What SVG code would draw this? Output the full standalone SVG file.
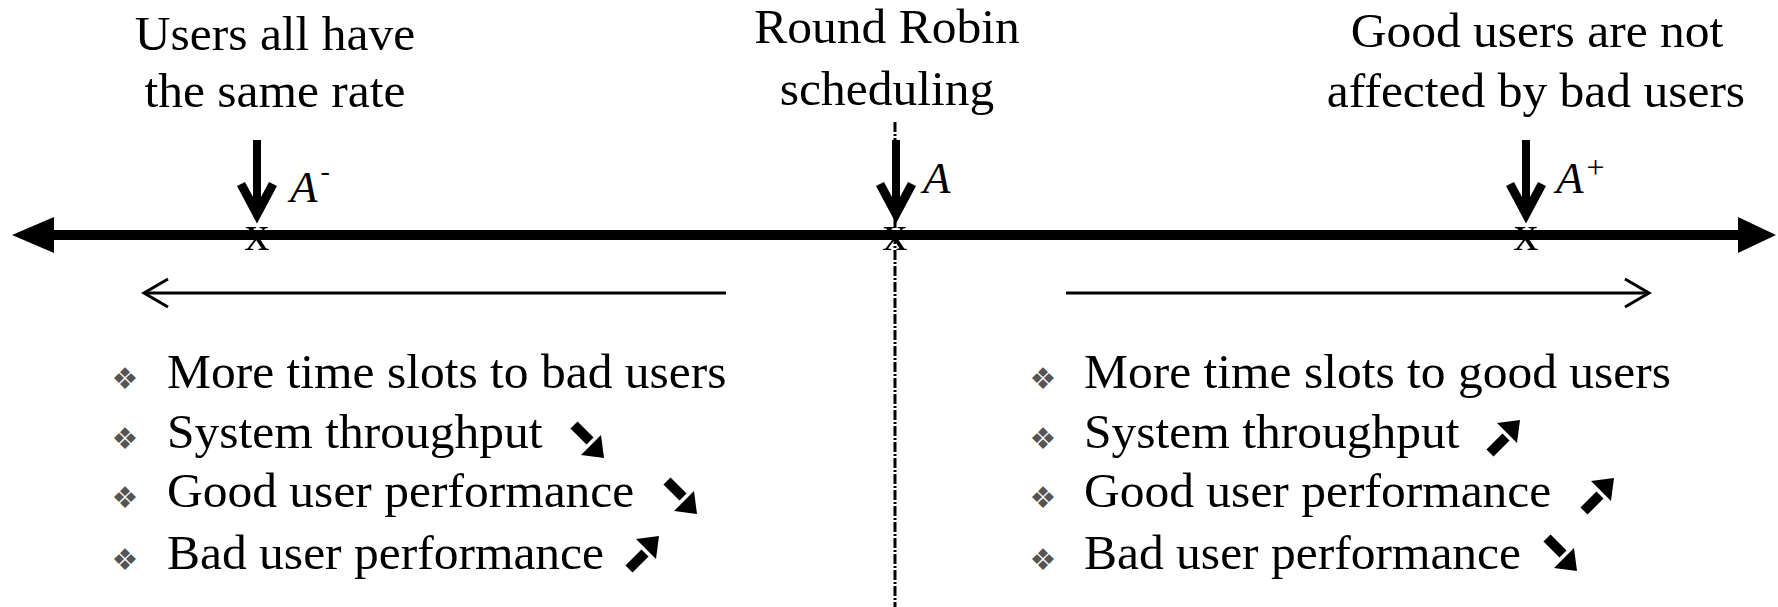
<svg xmlns="http://www.w3.org/2000/svg" xmlns:xlink="http://www.w3.org/1999/xlink" width="1778" height="607" viewBox="0 0 1778 607">
<style>
text{font-family:"Liberation Serif","Times New Roman",serif;fill:#000}
.cap{font-size:49.5px;text-anchor:middle}
.itm{font-size:49.5px}
.lbl{font-size:45px;font-style:italic}
.mk{font-size:50px;text-anchor:middle}
.bul{font-family:"DejaVu Sans",sans-serif;font-size:30px;fill:#555;text-anchor:middle}
.shaft{stroke:#000;stroke-width:8;fill:none}
.head{stroke:#000;stroke-width:9;fill:none;stroke-linejoin:miter;stroke-miterlimit:10}
.thin{stroke:#000;stroke-width:3;fill:none}
</style>
<defs>
<g id="up">
<line x1="4" y1="33" x2="20" y2="17" stroke="#000" stroke-width="10"/>
<polygon points="34,0 11,3 31,23" fill="#000"/>
</g>
</defs>
<rect width="1778" height="607" fill="#fff"/>
<g id="connectors">
<line x1="895" y1="122" x2="895" y2="607" stroke="#000" stroke-width="3" stroke-dasharray="10 2 2 2"/>
<line x1="48" y1="235" x2="1742" y2="235" stroke="#000" stroke-width="10"/>
<polygon points="12,235 54,217 54,253" fill="#000"/>
<polygon points="1776,235 1738,217 1738,253" fill="#000"/>
<line x1="144" y1="293" x2="726" y2="293" class="thin"/>
<polyline points="168,279 144,293 168,307" class="thin"/>
<line x1="1066" y1="293" x2="1648" y2="293" class="thin"/>
<polyline points="1625,279 1649,293 1625,307" class="thin"/>
</g>
<g id="node-a-minus">
<text class="cap" x="275" y="50">Users all have</text>
<text class="cap" x="275" y="107">the same rate</text>
<line x1="257" y1="140" x2="257" y2="212" class="shaft"/>
<polyline points="241,184 257,214 273,184" class="head"/>
<text class="mk" x="257" y="250">x</text>
<text class="lbl" x="290" y="202">A<tspan font-size="28" font-style="normal" dx="3" dy="-22">-</tspan></text>
</g>
<g id="node-a">
<text class="cap" x="887" y="43">Round Robin</text>
<text class="cap" x="887" y="105">scheduling</text>
<line x1="896" y1="140" x2="896" y2="212" class="shaft"/>
<polyline points="880,184 896,214 912,184" class="head"/>
<text class="mk" x="895" y="250">x</text>
<text class="lbl" x="923" y="193">A</text>
</g>
<g id="node-a-plus">
<text class="cap" x="1537" y="47">Good users are not</text>
<text class="cap" x="1536" y="107">affected by bad users</text>
<line x1="1526" y1="140" x2="1526" y2="212" class="shaft"/>
<polyline points="1510,184 1526,214 1542,184" class="head"/>
<text class="mk" x="1526" y="250">x</text>
<text class="lbl" x="1556" y="193">A<tspan font-size="32" font-style="normal" dx="3" dy="-15">+</tspan></text>
</g>
<g id="list-left">
<text class="bul" x="125" y="389">❖</text>
<text class="bul" x="125" y="449">❖</text>
<text class="bul" x="125" y="508">❖</text>
<text class="bul" x="125" y="570">❖</text>
<text class="itm" x="167" y="388">More time slots to bad users</text>
<text class="itm" x="167" y="448">System throughput</text>
<text class="itm" x="167" y="507">Good user performance</text>
<text class="itm" x="167" y="569">Bad user performance</text>
<use xlink:href="#up" transform="translate(570,458) scale(1,-1)"/>
<use xlink:href="#up" transform="translate(663,514) scale(1,-1)"/>
<use xlink:href="#up" x="625" y="536"/>
</g>
<g id="list-right">
<text class="bul" x="1043" y="389">❖</text>
<text class="bul" x="1043" y="449">❖</text>
<text class="bul" x="1043" y="508">❖</text>
<text class="bul" x="1043" y="570">❖</text>
<text class="itm" x="1084" y="388">More time slots to good users</text>
<text class="itm" x="1084" y="448">System throughput</text>
<text class="itm" x="1084" y="507">Good user performance</text>
<text class="itm" x="1084" y="569">Bad user performance</text>
<use xlink:href="#up" x="1486" y="420"/>
<use xlink:href="#up" x="1580" y="478"/>
<use xlink:href="#up" transform="translate(1543,571) scale(1,-1)"/>
</g>
</svg>
